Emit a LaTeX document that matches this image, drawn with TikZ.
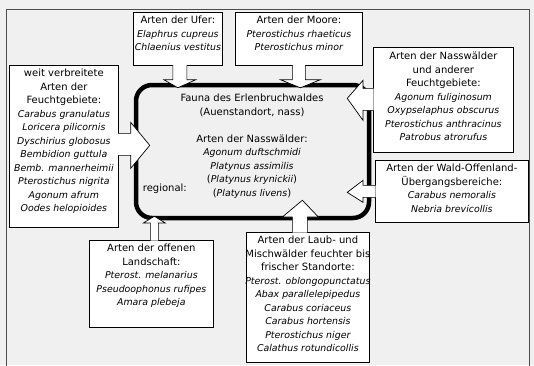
\documentclass[tikz,border=0pt]{standalone}
\usepackage{fontspec}
\setmainfont{DejaVu Sans}
\usetikzlibrary{positioning,calc}

\newcommand{\taxon}[1]{{\fontsize{9.4}{13.5}\selectfont\itshape #1}}

\tikzset{
  kasten/.style={draw, fill=white, line width=0.7pt, inner sep=0pt},
  kastentext/.style={align=center, inner sep=0pt, font=\fontsize{10}{13.5}\selectfont},
  pfeil/.style={draw, fill=white, line width=0.7pt},
  faunarahmen/.style={draw, line width=4.5pt, rounded corners=16pt, inner sep=0pt},
}

\begin{document}
\begin{tikzpicture}[x=1pt,y=-1pt]
  \clip (0,0) rectangle (534,365);
  \fill[gray!12] (0,0) rectangle (534,365);
  \draw[black!70, line width=0.8pt] (6,9) rectangle (529,372);

  % Zentrum
  \node[faunarahmen, minimum width=233pt, minimum height=133pt] (fauna) at (252.5,151.5) {};
  \node[kastentext, anchor=north] (faunatext) at (252,94) {Fauna des Erlenbruchwaldes\\(Auenstandort, nass)\\[13.5pt]Arten der Nassw\"alder:\\\taxon{Agonum duftschmidi}\\\taxon{Platynus assimilis}\\(\taxon{Platynus krynickii})\\(\taxon{Platynus livens})};
  \node[kastentext, anchor=base east] (regional) at (187,191) {regional:};

  % Kaesten
  \node[kasten, minimum width=89pt, minimum height=53pt, anchor=north west] (uferbox) at (133,12) {};
  \node[kasten, minimum width=127pt, minimum height=53pt, anchor=north west] (moorbox) at (235,12) {};
  \node[kasten, minimum width=140pt, minimum height=105pt, anchor=north west] (nassbox) at (373,47) {};
  \node[kasten, minimum width=109pt, minimum height=162pt, anchor=north west] (weitbox) at (9,65) {};
  \node[kasten, minimum width=153pt, minimum height=62pt, anchor=north west] (waldbox) at (375,160) {};
  \node[kasten, minimum width=124pt, minimum height=87pt, anchor=north west] (landbox) at (89,240) {};
  \node[kasten, minimum width=123pt, minimum height=130pt, anchor=north west] (laubbox) at (246,232) {};

  % Pfeile
  \draw[pfeil] ($(uferbox.south)+(-5,-0.5)$) -- ($(uferbox.south)+(-5,14)$) -- ($(uferbox.south)+(-14,14)$) -- ($(uferbox.south |- fauna.north)+(0,5)$) -- ($(uferbox.south)+(18,14)$) -- ($(uferbox.south)+(9,14)$) -- ($(uferbox.south)+(9,-0.5)$);
  \draw[pfeil] ($(moorbox.south)+(-6.5,-0.5)$) -- ($(moorbox.south)+(-6.5,14)$) -- ($(moorbox.south)+(-18.5,14)$) -- ($(moorbox.south |- fauna.north)+(1.5,5)$) -- ($(moorbox.south)+(21.5,14)$) -- ($(moorbox.south)+(6.5,14)$) -- ($(moorbox.south)+(6.5,-0.5)$);
  \draw[pfeil] ($(weitbox.east)+(-0.5,-13)$) -- ($(weitbox.east)+(12,-13)$) -- ($(weitbox.east)+(12,-24)$) -- ($(fauna.west |- weitbox.east)+(16,-1)$) -- ($(weitbox.east)+(12,22)$) -- ($(weitbox.east)+(12,9)$) -- ($(weitbox.east)+(-0.5,9)$);
  \draw[pfeil] ($(nassbox.west)+(0.5,-11.5)$) -- ($(nassbox.west)+(-10,-11.5)$) -- ($(nassbox.west)+(-10,-19.5)$) -- ($(fauna.east |- nassbox.west)+(-24,-1.5)$) -- ($(nassbox.west)+(-10,20.5)$) -- ($(nassbox.west)+(-10,10.5)$) -- ($(nassbox.west)+(0.5,10.5)$);
  \draw[pfeil] ($(waldbox.west)+(0.5,-6)$) -- ($(waldbox.west)+(-12,-6)$) -- ($(waldbox.west)+(-12,-11)$) -- ($(fauna.east |- waldbox.west)+(-24,1)$) -- ($(waldbox.west)+(-12,11)$) -- ($(waldbox.west)+(-12,6)$) -- ($(waldbox.west)+(0.5,6)$);
  \draw[pfeil] ($(landbox.north)+(-1,0.5)$) -- ($(landbox.north)+(-1,-17)$) -- ($(landbox.north)+(-8,-17)$) -- ($(landbox.north |- fauna.south)+(3,-4)$) -- ($(landbox.north)+(14,-17)$) -- ($(landbox.north)+(7,-17)$) -- ($(landbox.north)+(7,0.5)$);
  \draw[pfeil] ($(laubbox.north)+(-15.5,0.5)$) -- ($(laubbox.north)+(-15.5,-15)$) -- ($(laubbox.north)+(-25.5,-15)$) -- ($(laubbox.north |- fauna.south)+(-5.5,-20)$) -- ($(laubbox.north)+(10.5,-15)$) -- ($(laubbox.north)+(-0.5,-15)$) -- ($(laubbox.north)+(-0.5,0.5)$);

  % Texte
  \node[kastentext, below=4pt of uferbox.north] (ufer) {Arten der Ufer:\\\taxon{Elaphrus cupreus}\\\taxon{Chlaenius vestitus}};
  \node[kastentext, below=4pt of moorbox.north] (moor) {Arten der Moore:\\\taxon{Pterostichus rhaeticus}\\\taxon{Pterostichus minor}};
  \node[kastentext, below=5pt of nassbox.north] (nass) {Arten der Nassw\"alder\\und anderer\\Feuchtgebiete:\\\taxon{Agonum fuliginosum}\\\taxon{Oxypselaphus obscurus}\\\taxon{Pterostichus anthracinus}\\\taxon{Patrobus atrorufus}};
  \node[kastentext, below=4pt of weitbox.north] (weit) {weit verbreitete\\Arten der\\Feuchtgebiete:\\\taxon{Carabus granulatus}\\\taxon{Loricera pilicornis}\\\taxon{Dyschirius globosus}\\\taxon{Bembidion guttula}\\\taxon{Bemb. mannerheimii}\\\taxon{Pterostichus nigrita}\\\taxon{Agonum afrum}\\\taxon{Oodes helopioides}};
  \node[kastentext, below=4pt of waldbox.north] (wald) {Arten der Wald-Offenland-\\\"Ubergangsbereiche:\\\taxon{Carabus nemoralis}\\\taxon{Nebria brevicollis}};
  \node[kastentext, below=4pt of landbox.north] (land) {Arten der offenen\\Landschaft:\\\taxon{Pterost. melanarius}\\\taxon{Pseudoophonus rufipes}\\\taxon{Amara plebeja}};
  \node[kastentext, below=4pt of laubbox.north] (laub) {Arten der Laub- und\\Mischw\"alder feuchter bis\\frischer Standorte:\\\taxon{Pterost. oblongopunctatus}\\\taxon{Abax parallelepipedus}\\\taxon{Carabus coriaceus}\\\taxon{Carabus hortensis}\\\taxon{Pterostichus niger}\\\taxon{Calathus rotundicollis}};
\end{tikzpicture}
\end{document}
